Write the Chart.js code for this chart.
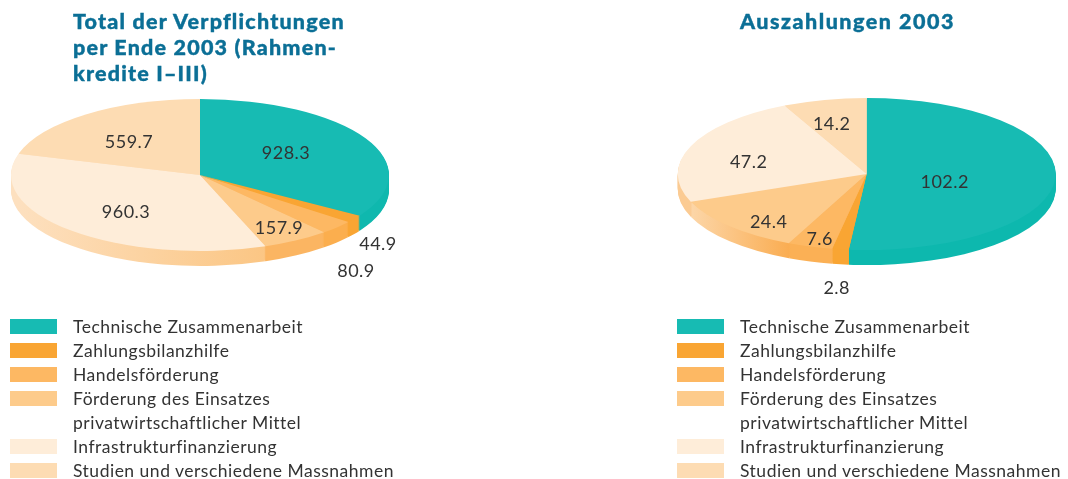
<!DOCTYPE html>
<html lang="de">
<head>
<meta charset="utf-8">
<title>Verpflichtungen und Auszahlungen 2003</title>
<script src="https://cdn.jsdelivr.net/npm/chart.js@4"></script>
<style>
    html, body { margin: 0; padding: 0; background: #fff; }
    #page { position: relative; width: 1068px; height: 479px; overflow: hidden; font-family: Lato, sans-serif; color: #333; }
    #page canvas { position: absolute; top: 0; }
    .titel { position: absolute; top: 8px; margin: 0; font-size: 21.5px; line-height: 26px; font-weight: 900; letter-spacing: 1.2px; -webkit-text-stroke: 0.4px #0b6f96; color: #0b6f96; white-space: pre; }
    .legende { position: absolute; top: 315px; margin: 0; padding: 0; list-style: none; }
    .legende li { position: relative; height: 24px; line-height: 24px; padding-left: 63px; font-size: 17.5px; letter-spacing: 0.5px; white-space: nowrap; }
    .legende i { position: absolute; left: 0; top: 4px; width: 47px; height: 15px; }
</style>
</head>
<body>
<div id="page">
    <canvas id="chart-links" width="534" height="479" style="left:0"></canvas>
    <canvas id="chart-rechts" width="534" height="479" style="left:534px"></canvas>
    <h2 class="titel" id="titel-links" style="left:73px"></h2>
    <h2 class="titel" id="titel-rechts" style="left:740px;letter-spacing:1.5px"></h2>
    <ul class="legende" id="legende-links" style="left:10px"></ul>
    <ul class="legende" id="legende-rechts" style="left:677px"></ul>
</div>
<script>
// Daten
const kategorien = [
    'Technische Zusammenarbeit',
    'Zahlungsbilanzhilfe',
    'Handelsförderung',
    ['Förderung des Einsatzes', 'privatwirtschaftlicher Mittel'],
    'Infrastrukturfinanzierung',
    'Studien und verschiedene Massnahmen'
];
const verpflichtungen = [928.3, 44.9, 80.9, 157.9, 960.3, 559.7];
const auszahlungen = [102.2, 2.8, 7.6, 24.4, 47.2, 14.2];
const titelLinks = 'Total der Verpflichtungen\nper Ende 2003 (Rahmen-\nkredite I–III)';
const titelRechts = 'Auszahlungen 2003';

// Farben
const farben = ['#17bbb3', '#f9a533', '#fdb863', '#fdcb8b', '#feedd9', '#fddcb3'];
const randLinks = [['#0fb8ae', '#0fb8ae'], ['#f9a533', '#f9a533'], ['#fbae4e', '#fbae4e'], ['#fbb562', '#fbb562'], ['#fde0bf', '#fbc684'], ['#fde0bf', '#fde0bf']];
const randRechts = [['#0db8ae', '#0db8ae'], ['#f9a533', '#f9a533'], ['#fbb055', '#fbb055'], ['#fcd6a8', '#faad52'], ['#fbcb93', '#fbcb93'], ['#fddcb3', '#fddcb3']];

// Lage der Zahlen relativ zur Kuchenmitte (Pixel)
const spotsLinks = [[86, -22], [178, 69], [156, 96], [79, 53], [-74, 37], [-71, -33]];
const spotsRechts = [[78, 8], [-30, 114], [-47, 65], [-98, 48], [-118, -12], [-35, -50]];

const RX = 189;
const RY = 76;
const TIEFE = 15;

// Ellipse und Rand: die Chart.js-Bögen werden vertikal gestaucht und für den Rand mehrfach gezeichnet
const kuchen3d = {
    id: 'kuchen3d',
    beforeDatasetDraw(chart) {
        const o = chart.options.plugins.kuchen3d;
        const ctx = chart.ctx;
        const arcs = chart.getDatasetMeta(0).data;
        const chartCy = arcs[0].y;

        const stauchen = (dy) => {
            ctx.translate(0, o.cy + dy);
            ctx.scale(1, RY / RX);
            ctx.translate(0, -chartCy);
        };

        arcs.forEach((arc, i) => {
            arc.$original = arc.options;
            const xa = arc.x + RX * Math.cos(arc.startAngle);
            const xb = arc.x + RX * Math.cos(arc.endAngle);
            const verlauf = ctx.createLinearGradient(Math.min(xa, xb), 0, Math.max(xa, xb), 0);
            verlauf.addColorStop(0, o.rand[i][0]);
            verlauf.addColorStop(1, o.rand[i][1]);
            arc.$rand = { backgroundColor: verlauf, borderColor: verlauf, borderWidth: 0, borderRadius: 0, borderAlign: 'center', offset: 0, spacing: 0, circular: true };
        });

        for (let d = TIEFE; d >= 1; d--) {
            ctx.save();
            stauchen(d);
            arcs.forEach(arc => {
                arc.options = arc.$rand;
                arc.draw(ctx);
            });
            ctx.restore();
        }
        arcs.forEach(arc => { arc.options = arc.$original; });

        ctx.save();
        stauchen(0);
    },
    afterDatasetDraw(chart) {
        chart.ctx.restore();
    },
    afterDatasetsDraw(chart) {
        const o = chart.options.plugins.kuchen3d;
        const ctx = chart.ctx;
        const arcs = chart.getDatasetMeta(0).data;
        const werte = chart.data.datasets[0].data;
        ctx.save();
        ctx.font = '18px Lato, sans-serif';
        ctx.fillStyle = '#333';
        ctx.textAlign = 'center';
        ctx.textBaseline = 'middle';
        ctx.letterSpacing = '0.5px';
        werte.forEach((wert, i) => {
            ctx.fillText(wert.toFixed(1), arcs[i].x + o.spots[i][0], o.cy + o.spots[i][1]);
        });
        ctx.restore();
    }
};

function zeichneKuchen(id, werte, cx, cy, rand, spots) {
    const canvas = document.getElementById(id);
    return new Chart(canvas.getContext('2d'), {
        type: 'pie',
        plugins: [kuchen3d],
        data: {
            labels: kategorien,
            datasets: [{
                data: werte,
                backgroundColor: farben,
                borderWidth: 0,
                clip: false
            }]
        },
        options: {
            responsive: false,
            animation: false,
            events: [],
            layout: {
                padding: { left: cx - RX, right: canvas.width - cx - RX, top: 50, bottom: 51 }
            },
            plugins: {
                legend: { display: false },
                tooltip: { enabled: false },
                kuchen3d: { cy: cy, rand: rand, spots: spots }
            }
        }
    });
}

function fuelleLegende(id) {
    const ul = document.getElementById(id);
    kategorien.forEach((kat, i) => {
        const zeilen = Array.isArray(kat) ? kat : [kat];
        zeilen.forEach((text, z) => {
            const li = document.createElement('li');
            li.textContent = text;
            if (z === 0) {
                const box = document.createElement('i');
                box.style.background = farben[i];
                li.appendChild(box);
            }
            ul.appendChild(li);
        });
    });
}

document.getElementById('titel-links').textContent = titelLinks;
document.getElementById('titel-rechts').textContent = titelRechts;
fuelleLegende('legende-links');
fuelleLegende('legende-rechts');
zeichneKuchen('chart-links', verpflichtungen, 200, 175, randLinks, spotsLinks);
zeichneKuchen('chart-rechts', auszahlungen, 332.7, 174, randRechts, spotsRechts);
</script>
</body>
</html>
